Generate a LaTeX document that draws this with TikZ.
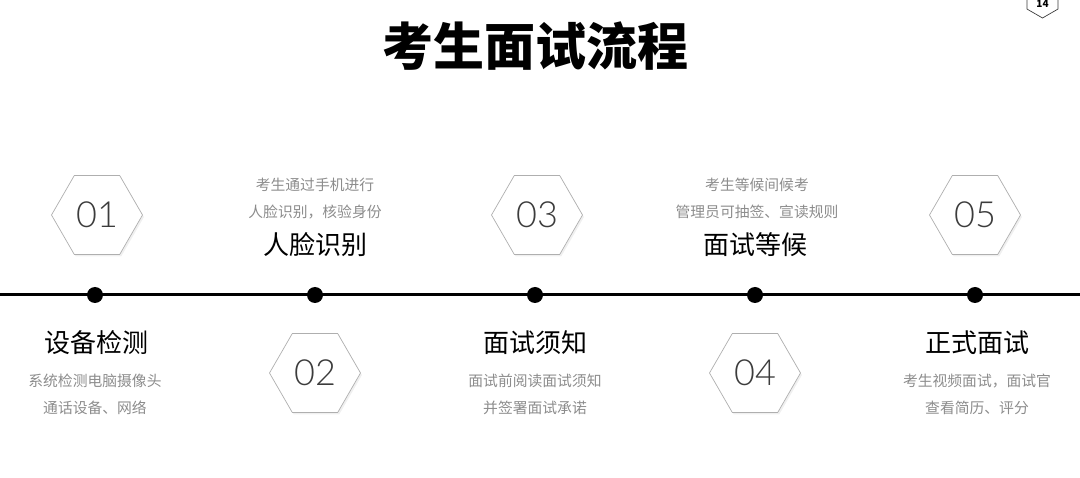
\documentclass[tikz,border=0pt]{standalone}
\usepackage{fontspec}
\setmainfont{Noto Sans CJK SC}
\newfontfamily\cjk{Noto Sans CJK SC}
\newfontfamily\numfont{Lato Light}
\usepackage{tikz}
\usetikzlibrary{
  shapes.geometric,
  shadows,
  positioning
}
\definecolor{hexgray}{RGB}{175,175,175}
\definecolor{notegray}{RGB}{140,140,140}
\definecolor{numgray}{RGB}{60,60,60}

\begin{document}
\begin{tikzpicture}[
        x=1pt, y=-1pt,
        every node/.style={font=\cjk},
        hexbox/.style={regular polygon, regular polygon sides=6, draw=hexgray, line width=0.7pt, fill=white,
            minimum size=91pt, inner sep=0pt, font=\numfont\fontsize{36}{36}\selectfont, text=numgray,
            drop shadow={opacity=0.12, shadow xshift=1.5pt, shadow yshift=-2pt}},
        dot/.style={circle, fill=black, minimum size=16pt, inner sep=0pt},
        stage/.style={font=\cjk\fontsize{26}{26}\selectfont, text=black},
        note/.style={font=\cjk\fontsize{14.8}{14.8}\selectfont, text=notegray, align=center},
        timeline/.style={line width=3pt, black}
    ]
    \useasboundingbox (0,0) rectangle (1080,478);

    % Title and page badge
    \node[font=\cjk\bfseries\fontsize{51}{51}\selectfont] (title) at (535,46) {考生面试流程};
    \node[regular polygon, regular polygon sides=6, rotate=30, draw=numgray, line width=0.7pt,
          minimum size=36pt, inner sep=0pt] (badge) at (1042.5,0) {};
    \node[font=\bfseries\fontsize{10}{10}\selectfont] (badgenum) at (1042.5,4) {14};

    % Timeline
    \coordinate (lineL) at (0,295);
    \coordinate (lineR) at (1080,295);
    \draw[timeline] (lineL) -- (lineR);
    \node[dot] (d1) at (95,295) {};
    \node[dot] (d2) at (315,295) {};
    \node[dot] (d3) at (535,295) {};
    \node[dot] (d4) at (755,295) {};
    \node[dot] (d5) at (975,295) {};

    % Hexagons
    \node[hexbox] (h1) at (97,215) {01};
    \node[hexbox] (h2) at (315,373) {02};
    \node[hexbox] (h3) at (537,215) {03};
    \node[hexbox] (h4) at (755,373) {04};
    \node[hexbox] (h5) at (975,215) {05};

    % Stage titles
    \node[stage] (s1) at (97,343) {设备检测};
    \node[stage] (s2) at (315,245) {人脸识别};
    \node[stage] (s3) at (535,343) {面试须知};
    \node[stage] (s4) at (755,245) {面试等候};
    \node[stage] (s5) at (977,343) {正式面试};

    % Notes
    \node[note] (n1a) at (95,381) {系统检测电脑摄像头};
    \node[note] (n1b) at (95,408) {通话设备、网络};
    \node[note] (n2a) at (315,185) {考生通过手机进行};
    \node[note] (n2b) at (315,212) {人脸识别，核验身份};
    \node[note] (n3a) at (535,381) {面试前阅读面试须知};
    \node[note] (n3b) at (535,408) {并签署面试承诺};
    \node[note] (n4a) at (757,185) {考生等候间候考};
    \node[note] (n4b) at (757,212) {管理员可抽签、宣读规则};
    \node[note] (n5a) at (977,381) {考生视频面试，面试官};
    \node[note] (n5b) at (977,408) {查看简历、评分};
\end{tikzpicture}
\end{document}
